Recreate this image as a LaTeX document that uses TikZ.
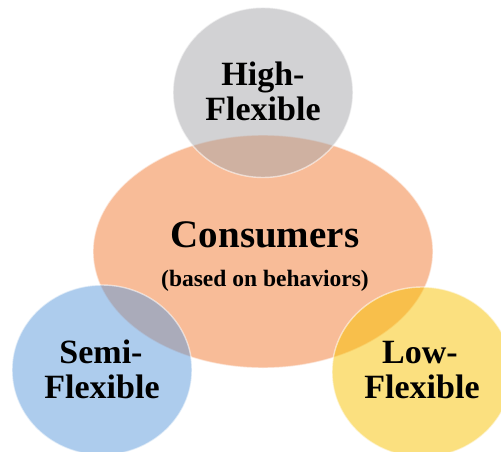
\documentclass[tikz,border=0pt]{standalone}
\usepackage{fontspec}
\setmainfont{Liberation Serif}
\usetikzlibrary{shapes.geometric}
\definecolor{orangefill}{RGB}{248,188,152}
\definecolor{grayfill}{RGB}{167,167,171}
\definecolor{bluefill}{RGB}{93,155,221}
\definecolor{yellowfill}{RGB}{249,195,0}
\tikzset{
  blob/.style={ellipse, inner sep=0pt, draw=white, draw opacity=0.55, line width=1.4pt},
  small/.style={blob, minimum width=180pt, minimum height=170pt, fill opacity=0.5},
  lbl/.style={anchor=base, inner sep=0pt, font=\fontsize{34}{35}\selectfont\bfseries},
  title/.style={anchor=base, inner sep=0pt, font=\fontsize{39}{40}\selectfont\bfseries},
  sub/.style={anchor=base, inner sep=0pt, font=\fontsize{23.5}{25}\selectfont\bfseries}
}
\begin{document}
\begin{tikzpicture}[x=1pt,y=-1pt]
\useasboundingbox (0,0) rectangle (501,452);
\clip (0,0) rectangle (501,452);
\fill[white] (0,0) rectangle (501,452);
\node[blob, fill=orangefill, minimum width=340pt, minimum height=233pt] (cons) at (263,251.5) {};
\node[small, fill=grayfill] (high) at (263,92.5) {};
\node[small, fill=bluefill] (semi) at (102,370) {};
\node[small, fill=yellowfill] (low) at (422,372) {};
\node[title] (ct) at (265,247) {Consumers};
\node[sub] (cs) at (265,286) {(based on behaviors)};
\node[lbl] (h1) at (263,86) {High-};
\node[lbl] (h2) at (263,121) {Flexible};
\node[lbl] (s1) at (101,363) {Semi-};
\node[lbl] (s2) at (102,398) {Flexible};
\node[lbl] (l1) at (420,363) {Low-};
\node[lbl] (l2) at (422,398) {Flexible};
\end{tikzpicture}
\end{document}
